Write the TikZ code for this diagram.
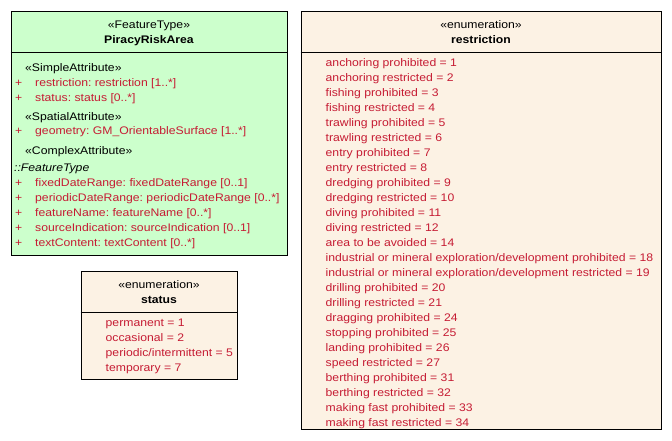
\documentclass[tikz,border=0pt]{standalone}
\usepackage{fontspec}
\setmainfont{Liberation Sans}[FakeStretch=1.11]
\usepackage{tikz}
\frenchspacing
\definecolor{featgreen}{RGB}{204,255,204}
\definecolor{enumcream}{RGB}{252,242,228}
\definecolor{attrred}{RGB}{198,28,52}

\begin{document}
\begin{tikzpicture}[x=1pt, y=-1pt,
  umlbox/.style = {draw, line width=1pt, inner sep=0pt},
  txt/.style = {font=\fontsize{11}{13}\selectfont, inner sep=0pt},
  title/.style = {txt, anchor=base},
  label/.style = {txt, anchor=base west},
  attr/.style = {label, text=attrred}]
  \useasboundingbox (0,0) rectangle (672,440);

  % feature type box
  \node[umlbox, fill=featgreen, minimum width=276pt, minimum height=244pt] (pra) at (149,133) {};
  \draw[line width=1pt] (pra.west |- 0,52) -- (pra.east |- 0,52);
  \node[title] (pra-st) at (149,28) {«FeatureType»};
  \node[title, font=\fontsize{11}{13}\selectfont\bfseries] (pra-name) at (149,43) {PiracyRiskArea};
  \node[label] (simple) at (25,71) {«SimpleAttribute»};
  \node[attr] (p1) at (15,86) {+};
  \node[attr] (a1) at (35,86) {restriction: restriction [1..*]};
  \node[attr] (p2) at (15,101.5) {+};
  \node[attr] (a2) at (35,101.5) {status: status [0..*]};
  \node[label] (spatial) at (25,120) {«SpatialAttribute»};
  \node[attr] (p3) at (15,134.5) {+};
  \node[attr] (a3) at (35,134.5) {geometry: GM\_OrientableSurface [1..*]};
  \node[label] (complex) at (25,154) {«ComplexAttribute»};
  \node[label, font=\fontsize{11}{13}\selectfont\itshape] (inh) at (14,171) {::FeatureType};
  \foreach \t [count=\i] in {fixedDateRange: fixedDateRange [0..1],
      periodicDateRange: periodicDateRange [0..*],
      featureName: featureName [0..*],
      sourceIndication: sourceIndication [0..1],
      textContent: textContent [0..*]} {
    \node[attr] (cp\i) at (15,172+14.8*\i) {+};
    \node[attr] (ca\i) at (35,172+14.8*\i) {\t};
  }

  % status enumeration
  \node[umlbox, fill=enumcream, minimum width=156pt, minimum height=108pt] (stat) at (159,325) {};
  \draw[line width=1pt] (stat.west |- 0,312) -- (stat.east |- 0,312);
  \node[title] (stat-st) at (159,288.5) {«enumeration»};
  \node[title, font=\fontsize{11}{13}\selectfont\bfseries] (stat-name) at (159,303) {status};
  \foreach \t [count=\i] in {permanent = 1, occasional = 2,
      periodic/intermittent = 5, temporary = 7} {
    \node[attr] (s\i) at (105.5,311.5+15*\i) {\t};
  }

  % restriction enumeration
  \node[umlbox, fill=enumcream, minimum width=360pt, minimum height=418pt] (restr) at (481,220) {};
  \draw[line width=1pt] (restr.west |- 0,52) -- (restr.east |- 0,52);
  \node[title] (restr-st) at (481,28) {«enumeration»};
  \node[title, font=\fontsize{11}{13}\selectfont\bfseries] (restr-name) at (481,43) {restriction};
  \foreach \t [count=\i] in {anchoring prohibited = 1, anchoring restricted = 2,
      fishing prohibited = 3, fishing restricted = 4,
      trawling prohibited = 5, trawling restricted = 6,
      entry prohibited = 7, entry restricted = 8,
      dredging prohibited = 9, dredging restricted = 10,
      diving prohibited = 11, diving restricted = 12,
      area to be avoided = 14,
      industrial or mineral exploration/development prohibited = 18,
      industrial or mineral exploration/development restricted = 19,
      drilling prohibited = 20, drilling restricted = 21,
      dragging prohibited = 24, stopping prohibited = 25,
      landing prohibited = 26, speed restricted = 27,
      berthing prohibited = 31, berthing restricted = 32,
      making fast prohibited = 33, making fast restricted = 34} {
    \node[attr] (r\i) at (325.5,51.5+15*\i) {\t};
  }
\end{tikzpicture}
\end{document}
